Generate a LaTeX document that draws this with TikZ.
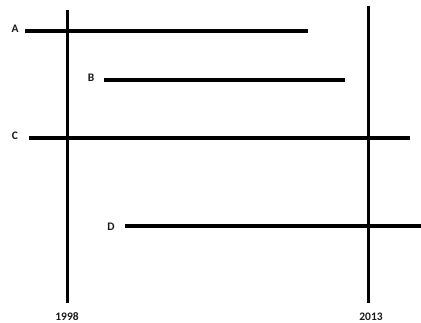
\documentclass[tikz,border=0pt]{standalone}
\usepackage{fontspec}
\setmainfont{Carlito}
\begin{document}
\begin{tikzpicture}[x=1pt,y=-1pt,
  bar/.style={line width=3.6pt},
  lbl/.style={font=\bfseries\fontsize{11.5}{13}\selectfont, text=black!90, inner sep=0pt}]
\useasboundingbox (0,0) rectangle (421,323);
% vertical time lines
\coordinate (v1t) at (67.5,10);
\coordinate (v1b) at (67.5,303);
\coordinate (v2t) at (368.5,6);
\coordinate (v2b) at (368.5,303);
\draw[bar] (v1t) -- (v1b);
\draw[bar] (v2t) -- (v2b);
% horizontal bars
\coordinate (a1) at (25,31);  \coordinate (a2) at (308,31);
\coordinate (b1) at (104,80); \coordinate (b2) at (345,80);
\coordinate (c1) at (29,138); \coordinate (c2) at (410,138);
\coordinate (d1) at (125,226); \coordinate (d2) at (421,226);
\draw[bar] (a1) -- (a2);
\draw[bar] (b1) -- (b2);
\draw[bar] (c1) -- (c2);
\draw[bar] (d1) -- (d2);
% labels
\node[lbl] (la) at (15,29) {A};
\node[lbl] (lb) at (91,78) {B};
\node[lbl] (lc) at (15,136) {C};
\node[lbl] (ld) at (111,227) {D};
\node[lbl] (y1) at (67,317) {1998};
\node[lbl] (y2) at (371,317) {2013};
\end{tikzpicture}
\end{document}
